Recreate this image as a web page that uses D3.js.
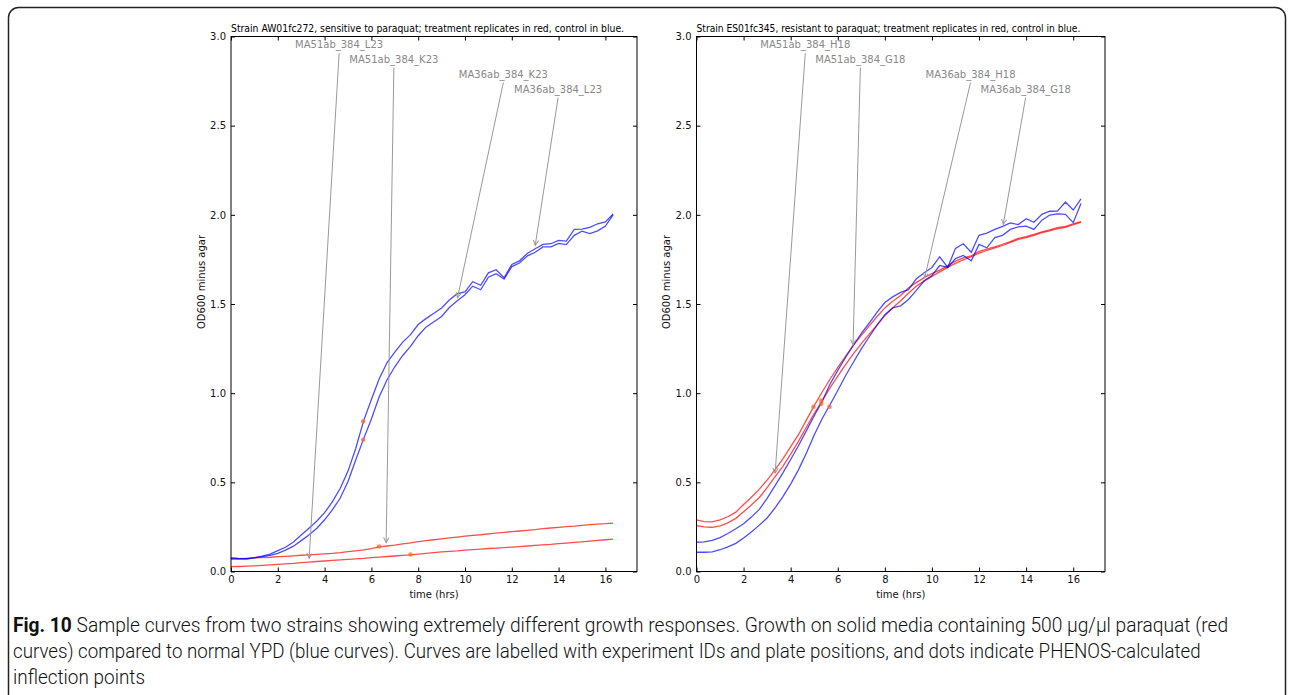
<!DOCTYPE html>
<html>
<head>
<meta charset="utf-8">
<script src="https://cdn.jsdelivr.net/npm/d3@7"></script>
<style>
  body { margin: 0; background: #fff; }
  svg text { font-family: "DejaVu Sans", "Bitstream Vera Sans", sans-serif; }
  .caption text { font-family: "Roboto", "Liberation Sans", sans-serif; }
</style>
</head>
<body>
<svg id="fig" width="1293" height="695"></svg>
<script>

// sampling times (hrs), one read every 20 min
var hours = [0, 0.33, 0.67, 1, 1.33, 1.67, 2, 2.33, 2.67, 3,
  3.33, 3.67, 4, 4.33, 4.67, 5, 5.33, 5.67, 6, 6.33,
  6.67, 7, 7.33, 7.67, 8, 8.33, 8.67, 9, 9.33, 9.67,
  10, 10.33, 10.67, 11, 11.33, 11.67, 12, 12.33, 12.67, 13,
  13.33, 13.67, 14, 14.33, 14.67, 15, 15.33, 15.67, 16, 16.33];

// strain AW01fc272 (sensitive)
var leftBlueA = [0.078,0.074,0.072,0.078,0.086,0.097,0.117,0.136,0.165,0.205,
  0.243,0.283,0.33,0.39,0.467,0.563,0.69,0.846,0.965,1.08,
  1.172,1.23,1.285,1.328,1.385,1.418,1.448,1.478,1.522,1.558,
  1.568,1.625,1.605,1.675,1.692,1.647,1.722,1.742,1.785,1.81,
  1.834,1.838,1.857,1.853,1.918,1.92,1.93,1.95,1.96,2.005];
var leftBlueB = [0.072,0.07,0.07,0.076,0.083,0.091,0.102,0.12,0.142,0.173,
  0.205,0.243,0.29,0.345,0.412,0.505,0.625,0.745,0.855,0.978,
  1.075,1.148,1.21,1.262,1.322,1.37,1.4,1.43,1.48,1.518,
  1.552,1.6,1.58,1.65,1.67,1.64,1.71,1.73,1.77,1.79,
  1.82,1.82,1.84,1.833,1.885,1.908,1.895,1.91,1.937,2.0];
var leftRedA = [0.07,0.072,0.074,0.076,0.078,0.08,0.083,0.085,0.088,0.091,
  0.093,0.096,0.099,0.102,0.106,0.111,0.116,0.121,0.128,0.138,
  0.143,0.148,0.155,0.161,0.168,0.173,0.178,0.183,0.188,0.193,
  0.198,0.202,0.206,0.211,0.215,0.219,0.224,0.227,0.231,0.235,
  0.24,0.244,0.248,0.252,0.255,0.259,0.263,0.266,0.268,0.271];
var leftRedB = [0.027,0.028,0.03,0.032,0.034,0.037,0.04,0.043,0.046,0.05,
  0.053,0.056,0.059,0.062,0.065,0.068,0.071,0.074,0.078,0.081,
  0.084,0.087,0.09,0.093,0.098,0.102,0.106,0.11,0.113,0.116,
  0.12,0.123,0.126,0.129,0.131,0.134,0.137,0.14,0.143,0.146,
  0.149,0.152,0.156,0.159,0.163,0.166,0.17,0.174,0.178,0.181];

// strain ES01fc345 (resistant)
var rightBlueA = [0.164,0.166,0.174,0.19,0.213,0.24,0.268,0.305,0.348,0.41,
  0.48,0.553,0.628,0.705,0.79,0.873,0.953,1.05,1.128,1.2,
  1.27,1.335,1.392,1.455,1.508,1.54,1.565,1.58,1.64,1.675,
  1.705,1.765,1.705,1.812,1.838,1.79,1.885,1.898,1.918,1.935,
  1.955,1.945,1.978,1.958,2.003,2.02,2.021,2.072,2.027,2.09];
var rightBlueB = [0.108,0.108,0.11,0.122,0.138,0.158,0.188,0.222,0.26,0.3,
  0.355,0.42,0.49,0.57,0.665,0.765,0.855,0.935,1.015,1.098,
  1.175,1.248,1.315,1.382,1.44,1.478,1.49,1.525,1.575,1.63,
  1.66,1.716,1.705,1.755,1.772,1.742,1.834,1.815,1.872,1.885,
  1.918,1.933,1.937,1.918,1.97,1.999,2.005,2.003,1.956,2.064];
var rightRedA = [0.289,0.28,0.278,0.29,0.307,0.333,0.376,0.416,0.462,0.512,
  0.57,0.632,0.7,0.767,0.85,0.93,1.005,1.078,1.145,1.207,
  1.27,1.324,1.376,1.43,1.478,1.515,1.548,1.59,1.62,1.648,
  1.67,1.69,1.715,1.74,1.758,1.77,1.795,1.808,1.82,1.835,
  1.85,1.868,1.878,1.89,1.905,1.915,1.928,1.935,1.95,1.962];
var rightRedB = [0.257,0.25,0.248,0.256,0.273,0.298,0.335,0.373,0.415,0.47,
  0.53,0.59,0.658,0.73,0.81,0.885,0.955,1.03,1.095,1.16,
  1.222,1.278,1.33,1.383,1.435,1.478,1.518,1.56,1.6,1.628,
  1.655,1.68,1.705,1.728,1.748,1.765,1.785,1.8,1.815,1.828,
  1.845,1.862,1.872,1.885,1.9,1.91,1.922,1.93,1.945,1.958];

// PHENOS inflection points [hrs, OD]
var leftDots = [[5.65, 0.842], [5.65, 0.739], [6.33, 0.14], [7.67, 0.095]];
var rightDots = [[4.97, 0.924], [5.3, 0.958], [5.3, 0.94], [5.65, 0.924]];

var leftTitle = "Strain AW01fc272, sensitive to paraquat; treatment replicates in red, control in blue.";
var rightTitle = "Strain ES01fc345, resistant to paraquat; treatment replicates in red, control in blue.";

var leftLabels = ["MA51ab_384_L23", "MA51ab_384_K23", "MA36ab_384_K23", "MA36ab_384_L23"];
var rightLabels = ["MA51ab_384_H18", "MA51ab_384_G18", "MA36ab_384_H18", "MA36ab_384_G18"];
var labelSpots = [[4.62, 2.954], [6.96, 2.874], [11.64, 2.79], [13.98, 2.705]];
var leftTips = [[3.34, 0.074], [6.63, 0.162], [9.68, 1.535], [13.0, 1.829]];
var rightTips = [[3.34, 0.552], [6.65, 1.272], [9.69, 1.647], [13.03, 1.947]];

var xTicks = [0, 2, 4, 6, 8, 10, 12, 14, 16];
var yTicks = [0, 0.5, 1, 1.5, 2, 2.5, 3];

var captionBold = "Fig. 10";
var captionLines = [
  " Sample curves from two strains showing extremely different growth responses. Growth on solid media containing 500 \u00b5g/\u00b5l paraquat (red",
  "curves) compared to normal YPD (blue curves). Curves are labelled with experiment IDs and plate positions, and dots indicate PHENOS-calculated",
  "inflection points"
];

var svg = d3.select("#fig");

// page frame (open at the bottom)
svg.append("rect")
    .attr("x", 8.5).attr("y", 7.5)
    .attr("width", 1277).attr("height", 760)
    .attr("rx", 10)
    .attr("fill", "none")
    .attr("stroke", "#222")
    .attr("stroke-width", 1.5);

svg.append("defs").append("marker")
    .attr("id", "head")
    .attr("viewBox", "-6 -4 8 8")
    .attr("refX", 0).attr("refY", 0)
    .attr("markerUnits", "userSpaceOnUse")
    .attr("markerWidth", 8).attr("markerHeight", 8)
    .attr("orient", "auto")
  .append("path")
    .attr("d", "M-5,-2.6L0,0L-5,2.6")
    .attr("fill", "none")
    .attr("stroke", "#999")
    .attr("stroke-width", 1);

// squeeze a text horizontally so it spans w pixels
function squeeze(t, x0, y0, w) {
  var nat = t.node().getComputedTextLength();
  t.attr("transform", "translate(" + x0 + "," + y0 + ") scale(" + (w / nat) + ",1)");
}

function drawPanel(p) {
  var x = d3.scaleLinear().domain([0, 17.35]).range([p.left, p.right]);
  var y = d3.scaleLinear().domain([0, 3]).range([571.5, 36.5]);
  var g = svg.append("g");

  var line = d3.line()
      .x(function(d) { return x(d[0]); })
      .y(function(d) { return y(d[1]); });

  var series = [
    { vals: p.redA, color: "red" },
    { vals: p.redB, color: "red" },
    { vals: p.blueA, color: "blue" },
    { vals: p.blueB, color: "blue" }
  ];

  g.selectAll(".curve")
      .data(series)
    .enter().append("path")
      .attr("class", "curve")
      .attr("d", function(s) { return line(hours.map(function(t, i) { return [t, s.vals[i]]; })); })
      .attr("fill", "none")
      .attr("stroke", function(s) { return s.color; })
      .attr("stroke-opacity", 0.7)
      .attr("stroke-width", 1.3);

  g.selectAll(".dot")
      .data(p.dots)
    .enter().append("circle")
      .attr("class", "dot")
      .attr("cx", function(d) { return x(d[0]); })
      .attr("cy", function(d) { return y(d[1]); })
      .attr("r", 2.3)
      .attr("fill", "#ff6a2a")
      .attr("fill-opacity", 0.75);

  // axes: ticks point inward on every side
  g.append("g")
      .attr("transform", "translate(0,571.5)")
      .call(d3.axisBottom(x).tickValues(xTicks).tickSize(-4).tickPadding(4.5));
  g.append("g")
      .attr("transform", "translate(" + p.left + ",0)")
      .call(d3.axisLeft(y).tickValues(yTicks).tickSize(-4).tickPadding(5).tickFormat(d3.format(".1f")));
  g.append("g")
      .attr("transform", "translate(0,36.5)")
      .call(d3.axisTop(x).tickValues(xTicks).tickSize(-4).tickFormat(""));
  g.append("g")
      .attr("transform", "translate(" + p.right + ",0)")
      .call(d3.axisRight(y).tickValues(yTicks).tickSize(-4).tickFormat(""));
  g.selectAll(".domain").remove();
  g.selectAll(".tick line").attr("stroke", "#000");
  g.selectAll(".tick text").attr("font-size", 10).attr("fill", "#111")
      .attr("font-family", "DejaVu Sans");

  g.append("rect")
      .attr("x", p.left).attr("y", 36.5)
      .attr("width", p.right - p.left).attr("height", 535)
      .attr("fill", "none")
      .attr("stroke", "#000")
      .attr("stroke-width", 1);

  // annotations
  p.labels.forEach(function(lab, i) {
    var lx = x(labelSpots[i][0]), ly = y(labelSpots[i][1]);
    g.append("line")
        .attr("x1", lx).attr("y1", ly + 8.5)
        .attr("x2", x(p.tips[i][0])).attr("y2", y(p.tips[i][1]))
        .attr("stroke", "#999")
        .attr("stroke-width", 1)
        .attr("marker-end", "url(#head)");
    g.append("text")
        .attr("x", lx).attr("y", ly)
        .attr("dy", "0.36em")
        .attr("text-anchor", "middle")
        .attr("font-size", 10)
        .attr("fill", "#888")
        .text(lab);
  });

  var title = g.append("text")
      .attr("font-size", 10)
      .attr("fill", "#000")
      .text(p.title);
  squeeze(title, p.left, 31.5, p.titleWidth);

  g.append("text")
      .attr("x", (p.left + p.right) / 2).attr("y", 598)
      .attr("text-anchor", "middle")
      .attr("font-size", 10)
      .attr("fill", "#111")
      .text("time (hrs)");

  g.append("text")
      .attr("transform", "translate(" + (p.left - 26.5) + ",282) rotate(-90)")
      .attr("text-anchor", "middle")
      .attr("font-size", 10)
      .attr("fill", "#111")
      .text("OD600 minus agar");
}

drawPanel({ left: 231, right: 637, title: leftTitle, titleWidth: 394,
  blueA: leftBlueA, blueB: leftBlueB, redA: leftRedA, redB: leftRedB,
  dots: leftDots, labels: leftLabels, tips: leftTips });
drawPanel({ left: 696.5, right: 1105, title: rightTitle, titleWidth: 384,
  blueA: rightBlueA, blueB: rightBlueB, redA: rightRedA, redB: rightRedB,
  dots: rightDots, labels: rightLabels, tips: rightTips });

// caption
var cap = svg.append("g").attr("class", "caption");
var capWidths = [1216, 1188, 132];
captionLines.forEach(function(txt, i) {
  var t = cap.append("text")
      .attr("font-size", 19.5)
      .attr("font-weight", 300)
      .attr("fill", "#111");
  if (i === 0) {
    t.append("tspan").attr("font-weight", "bold").text(captionBold);
  }
  t.append("tspan").text(txt);
  squeeze(t, 13, 632 + i * 26, capWidths[i]);
});

</script>
</body>
</html>
